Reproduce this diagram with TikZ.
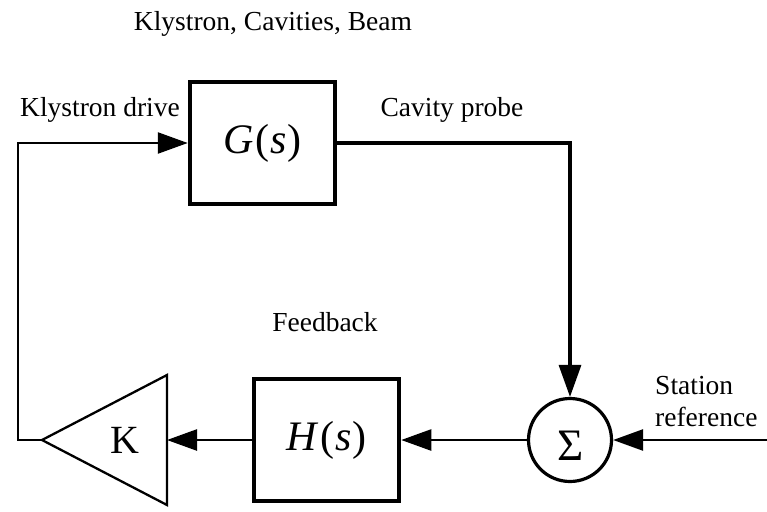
\documentclass[tikz,border=0pt]{standalone}
\usepackage{fontspec}
\setmainfont{Liberation Serif}
\usetikzlibrary{arrows.meta}
\begin{document}
\begin{tikzpicture}[x=1pt,y=-1pt,
  lbl/.style={font=\fontsize{27.5}{32}\selectfont, inner sep=0pt, align=center},
  blockbox/.style={draw, line width=4.5pt, inner sep=0pt, minimum width=145pt, minimum height=122pt,
    font=\fontsize{42}{44}\selectfont},
  sumnode/.style={draw, circle, line width=3.2pt, inner sep=0pt, minimum size=83pt,
    font=\fontsize{40}{40}\selectfont},
  conn/.style={line width=2.5pt, -{Triangle[length=30pt,width=21pt]}},
  thickconn/.style={line width=3.2pt, -{Triangle[length=32pt,width=22pt]}}
]
\useasboundingbox (0,0) rectangle (767,511);

% blocks
\node[blockbox] (G) at (262.5,143) {\textit{G}\kern2pt(\kern1pt\textit{s}\kern1pt)};
\node[blockbox] (H) at (326.5,440) {\textit{H}\kern2pt(\kern1pt\textit{s}\kern1pt)};
\node[sumnode] (S) at (570,440) {};
\node[font=\fontsize{45}{45}\selectfont, inner sep=0pt] (sig) at (571,446) {Σ};

% amplifier triangle
\coordinate (kapex) at (42,440);
\coordinate (ktop) at (167,375);
\coordinate (kbot) at (167,505);
\coordinate (kright) at (167,440);
\draw[line width=2.3pt, line join=miter] (kapex) -- (ktop) -- (kbot) -- cycle;
\node[font=\fontsize{40}{40}\selectfont, inner sep=0pt] (K) at (125,440) {K};

% helper coordinates
\coordinate (lc) at (18,440);
\coordinate (sr) at (767,440);

% connectors
\draw[conn] (kapex) -- (lc) |- (G.west);
\draw[thickconn] (G.east) -| (S.north);
\draw[conn] (S.west) -- (H.east);
\draw[conn] (H.west) -- (kright);
\draw[conn] (sr) -- (S.east);

% labels
\node[lbl] (t1) at (273,24) {Klystron, Cavities, Beam};
\node[lbl] (t2) at (100,110) {Klystron drive};
\node[lbl] (t3) at (452,110) {Cavity probe};
\node[lbl] (t4) at (325,322) {Feedback};
\node[lbl, align=left, anchor=west] (t5) at (655,402) {Station\\reference};
\end{tikzpicture}
\end{document}
